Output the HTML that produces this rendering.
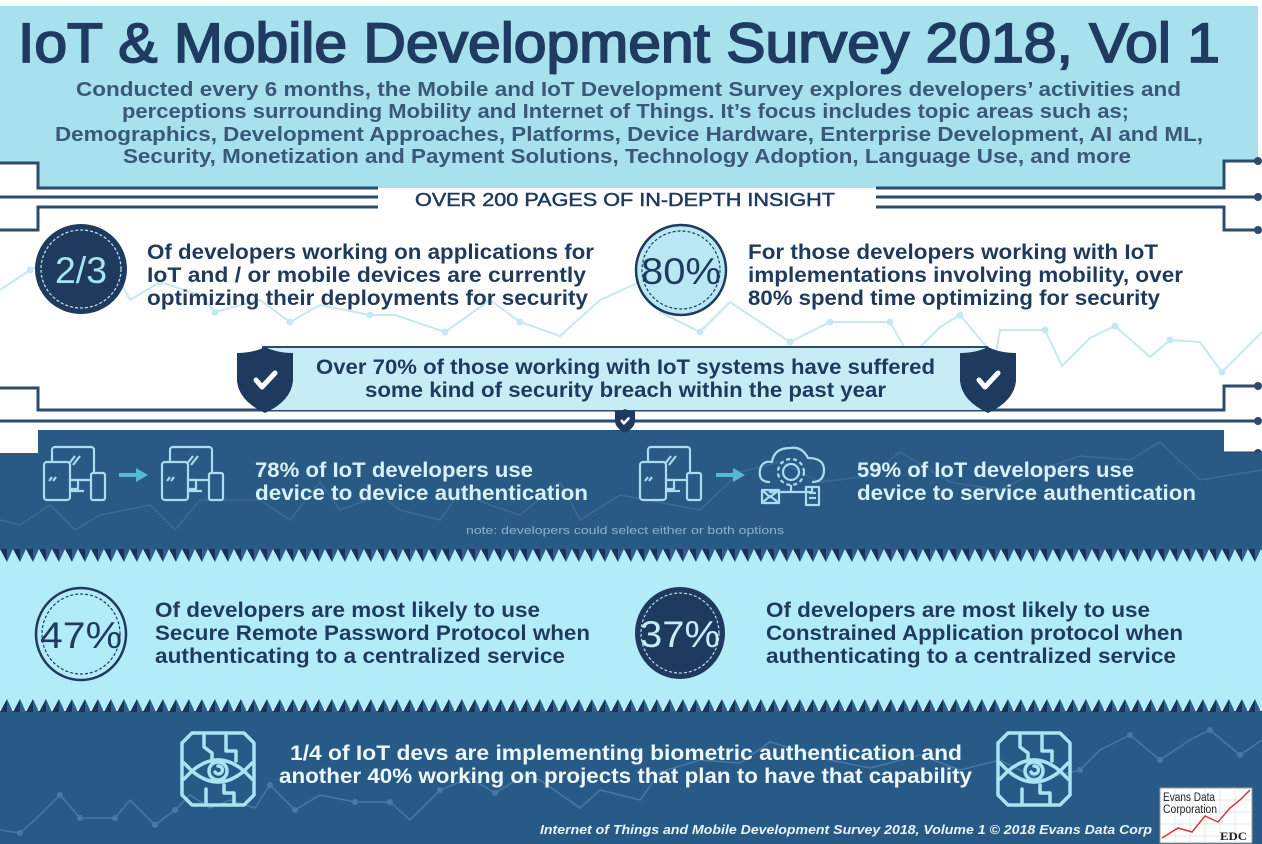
<!DOCTYPE html>
<html><head><meta charset="utf-8"><style>html,body{margin:0;padding:0;background:#fff}svg{display:block}</style></head>
<body>
<svg width="1262" height="844" viewBox="0 0 1262 844" xmlns="http://www.w3.org/2000/svg" font-family="'Liberation Sans', sans-serif">
<defs>
<pattern id="t1" x="0" y="549" width="13" height="13" patternUnits="userSpaceOnUse">
<polygon points="0,0 7,0 7,13" fill="#1c3358"/><polygon points="7,0 13,0 7,13" fill="#2f5f8c"/>
</pattern>
<pattern id="t2" x="0" y="699" width="13" height="13" patternUnits="userSpaceOnUse">
<polygon points="0,13 7,0 7,13" fill="#1c3358"/><polygon points="7,0 13,13 7,13" fill="#2f5f8c"/>
</pattern>
<g id="dev" fill="#295a86" stroke="#a8dcee" stroke-width="2.2" stroke-linejoin="round">
<rect x="8" y="0" width="42" height="33" rx="3"/>
<rect x="24" y="33" width="10" height="9"/>
<line x1="18" y1="44" x2="40" y2="44"/>
<line x1="31" y1="9" x2="24" y2="18"/><line x1="36" y1="9" x2="29" y2="18"/>
<rect x="0" y="15" width="26" height="38" rx="3"/>
<line x1="8" y1="30" x2="5" y2="34"/><line x1="12" y1="30" x2="9" y2="34"/>
<rect x="47" y="26" width="14" height="27" rx="2"/>
</g>
<g id="eye" fill="none" stroke="#a8e4f2" stroke-width="3.5" stroke-linejoin="round" stroke-linecap="round">
<path d="M10,0 H62 L72,10 V62 L62,72 H10 L0,62 V10 Z"/>
<path d="M10,38 Q36,16 62,38 Q36,60 10,38 Z"/>
<circle cx="36" cy="38" r="9"/>
<path d="M36,33 a4,4 0 1 1 -3,6"/>
<path d="M22,2 V14 L30,20 V28"/><path d="M44,2 V18 H54 V28"/>
<path d="M24,56 V70"/><path d="M42,52 V60 H52 V70"/>
<path d="M2,30 L10,38 L2,46"/><path d="M70,30 L62,38 L70,46"/>
</g>
<path id="shield" d="M-28,6 Q-12,6 0,0 Q12,6 28,6 L28,34 Q26,54 0,66 Q-26,54 -28,34 Z"/>
</defs>

<rect width="1262" height="844" fill="#ffffff"/>

<g stroke="#c6e8f0" stroke-width="2" fill="none">
<polyline points="0,290 30,270 72,248 110,262 130,300 160,282 200,295 215,312 260,300 290,322 320,305 370,315 395,315 445,332 490,300 520,322 560,336 600,300 640,282 660,312 700,332 730,302 790,342 830,322 890,322 910,357 940,327 960,315 995,357 1000,330 1045,330 1062,366 1090,338 1115,326 1150,357 1170,340 1200,342 1222,372 1262,332"/>
</g>
<g fill="#c6e8f0">
<circle cx="30" cy="270" r="3.5"/><circle cx="160" cy="282" r="3.5"/><circle cx="215" cy="312" r="3.5"/><circle cx="290" cy="322" r="3.5"/><circle cx="370" cy="315" r="3.5"/><circle cx="445" cy="332" r="3.5"/><circle cx="520" cy="322" r="3.5"/><circle cx="700" cy="332" r="3.5"/><circle cx="790" cy="342" r="3.5"/><circle cx="830" cy="322" r="3.5"/><circle cx="890" cy="322" r="3.5"/><circle cx="960" cy="315" r="3.5"/><circle cx="1045" cy="330" r="3.5"/><circle cx="1115" cy="326" r="3.5"/><circle cx="1170" cy="340" r="3.5"/><circle cx="1222" cy="372" r="3.5"/>
</g>

<path d="M0,6 H1258 V161 H1224 V188 H38 V163 H0 Z" fill="#a7e1ee"/>
<text x="18" y="62" font-size="56" fill="#1f3b60" stroke="#1f3b60" stroke-width="1.8" textLength="1202" lengthAdjust="spacingAndGlyphs">IoT &amp; Mobile Development Survey 2018, Vol 1</text>
<g font-size="20.5" font-weight="bold" fill="#3a5878">
<text x="76" y="96" textLength="1105" lengthAdjust="spacingAndGlyphs">Conducted every 6 months, the Mobile and IoT Development Survey explores developers’ activities and</text>
<text x="122" y="118" textLength="1007" lengthAdjust="spacingAndGlyphs">perceptions surrounding Mobility and Internet of Things. It’s focus includes topic areas such as;</text>
<text x="55" y="141" textLength="1148" lengthAdjust="spacingAndGlyphs">Demographics, Development Approaches, Platforms, Device Hardware, Enterprise Development, AI and ML,</text>
<text x="123" y="163" textLength="1008" lengthAdjust="spacingAndGlyphs">Security, Monetization and Payment Solutions, Technology Adoption, Language Use, and more</text>
</g>

<g stroke="#2d4b6d" stroke-width="3" fill="none">
<path d="M0,163 H38 V188 H378"/>
<path d="M0,197 H378"/>
<path d="M378,207 H38 V230 H0"/>
<path d="M876,188 H1224 V161 H1258"/>
<path d="M876,197 H1258"/>
<path d="M876,207 H1224 V230 H1258"/>
<path d="M0,388 H38 V410 H1224 V386 H1258"/>
<path d="M0,421 H1258"/>
<path d="M1224,453 H1258"/>
</g>
<g fill="#2d4b6d">
<circle cx="1258" cy="161" r="4"/><circle cx="1258" cy="197" r="4"/><circle cx="1258" cy="230" r="4"/>
<circle cx="1258" cy="386" r="4"/><circle cx="1258" cy="421" r="4"/><circle cx="1258" cy="453" r="4"/>
</g>
<text x="415" y="206" font-size="18.5" fill="#1f3b60" stroke="#1f3b60" stroke-width="0.5" textLength="420" lengthAdjust="spacingAndGlyphs">OVER 200 PAGES OF IN-DEPTH INSIGHT</text>

<ellipse cx="81" cy="269" rx="46" ry="45" fill="#1f3a5f"/>
<ellipse cx="81" cy="269" rx="40" ry="39" fill="none" stroke="#b6dbe8" stroke-width="1.3" stroke-dasharray="3,2"/>
<text x="55" y="283" font-size="37" fill="#a8e3f0" textLength="52" lengthAdjust="spacingAndGlyphs">2/3</text>
<g font-size="21" font-weight="bold" fill="#1f3a5c">
<text x="147" y="259" textLength="447" lengthAdjust="spacingAndGlyphs">Of developers working on applications for</text>
<text x="147" y="282" textLength="439" lengthAdjust="spacingAndGlyphs">IoT and / or mobile devices are currently</text>
<text x="147" y="305" textLength="441" lengthAdjust="spacingAndGlyphs">optimizing their deployments for security</text>
</g>
<ellipse cx="681" cy="270" rx="45" ry="45" fill="#b9e8f4" stroke="#1f3a5f" stroke-width="2.5"/>
<ellipse cx="681" cy="270" rx="39" ry="39" fill="none" stroke="#1f3a5f" stroke-width="1.2" stroke-dasharray="3,2"/>
<text x="641" y="284" font-size="37" fill="#1f3a5f" textLength="80" lengthAdjust="spacingAndGlyphs">80%</text>
<g font-size="21" font-weight="bold" fill="#1f3a5c">
<text x="748" y="259" textLength="410" lengthAdjust="spacingAndGlyphs">For those developers working with IoT</text>
<text x="748" y="282" textLength="435" lengthAdjust="spacingAndGlyphs">implementations involving mobility, over</text>
<text x="748" y="305" textLength="412" lengthAdjust="spacingAndGlyphs">80% spend time optimizing for security</text>
</g>

<rect x="262" y="347" width="726" height="63" fill="#c6edf6"/>
<line x1="262" y1="347" x2="988" y2="347" stroke="#2d4b6d" stroke-width="2"/>
<g font-size="21" font-weight="bold" fill="#1f3a5c">
<text x="316" y="374" textLength="619" lengthAdjust="spacingAndGlyphs">Over 70% of those working with IoT systems have suffered</text>
<text x="365" y="397" textLength="521" lengthAdjust="spacingAndGlyphs">some kind of security breach within the past year</text>
</g>
<g transform="translate(265,347)"><use href="#shield" fill="#1f3a5f"/><polyline points="-9,33 -3,40 10,26" fill="none" stroke="#fff" stroke-width="5" stroke-linecap="round" stroke-linejoin="round"/></g>
<g transform="translate(988,347)"><use href="#shield" fill="#1f3a5f"/><polyline points="-9,33 -3,40 10,26" fill="none" stroke="#fff" stroke-width="5" stroke-linecap="round" stroke-linejoin="round"/></g>

<path d="M38,430 H1224 V453 H1262 V551 H0 V453 H38 Z" fill="#295a86"/>
<g transform="translate(625,409) scale(0.36)"><use href="#shield" fill="#1f3a5f"/><polyline points="-9,33 -3,40 10,26" fill="none" stroke="#fff" stroke-width="7" stroke-linecap="round" stroke-linejoin="round"/></g>
<polyline points="0,520 20,525 50,505 75,530 100,515 150,505 175,530 200,500 260,500 290,520 320,482 340,510 380,495 400,510 440,520 460,492 490,505 520,515 560,482 580,520 620,495 700,510 740,472 780,462 820,482 870,476 900,452 950,482 1000,490 1040,470 1080,456 1130,460 1160,442 1200,480 1262,470" fill="none" stroke="#3a6994" stroke-width="1.5"/>
<use href="#dev" x="44" y="447"/>
<use href="#dev" x="162" y="447"/>
<use href="#dev" x="640" y="447"/>
<g fill="#56b8d3" stroke="#56b8d3">
<line x1="119" y1="475" x2="138" y2="475" stroke-width="4"/><polygon points="136,468 148,475 136,482" stroke="none"/>
<line x1="716" y1="475" x2="735" y2="475" stroke-width="4"/><polygon points="733,468 745,475 733,482" stroke="none"/>
</g>
<g fill="none" stroke="#a8dcee" stroke-width="2.2" stroke-linejoin="round">
<path d="M770,482 Q758,482 760,470 Q762,460 772,462 Q774,448 790,448 Q802,446 808,458 Q824,458 824,470 Q824,482 812,482"/>
<circle cx="791" cy="472" r="8"/>
<circle cx="791" cy="472" r="13" stroke-dasharray="4,3"/>
<path d="M791,485 V492 H770 V490 M791,492 H812 V487"/>
<rect x="762" y="490" width="17" height="13"/><path d="M762,490 L770,497 L779,490 M762,503 L770,496 L779,503"/>
<rect x="806" y="487" width="13" height="18"/><line x1="809" y1="493" x2="816" y2="493"/><line x1="809" y1="498" x2="816" y2="498"/>
</g>
<g font-size="21" font-weight="bold" fill="#d8f1f8">
<text x="255" y="477" textLength="278" lengthAdjust="spacingAndGlyphs">78% of IoT developers use</text>
<text x="255" y="500" textLength="333" lengthAdjust="spacingAndGlyphs">device to device authentication</text>
<text x="857" y="477" textLength="277" lengthAdjust="spacingAndGlyphs">59% of IoT developers use</text>
<text x="857" y="500" textLength="339" lengthAdjust="spacingAndGlyphs">device to service authentication</text>
</g>
<text x="466" y="534" font-size="11" fill="#8cb0cf" textLength="318" lengthAdjust="spacingAndGlyphs">note: developers could select either or both options</text>

<rect x="0" y="549" width="1262" height="160" fill="#b3ecf9"/>
<rect x="0" y="549" width="1262" height="13" fill="url(#t1)"/>
<ellipse cx="81" cy="634" rx="45" ry="46" fill="none" stroke="#1f3a5f" stroke-width="2.5"/>
<ellipse cx="81" cy="634" rx="39" ry="40" fill="none" stroke="#1f3a5f" stroke-width="1.2" stroke-dasharray="3,2"/>
<text x="40" y="648" font-size="37" fill="#1f3a5f" textLength="82" lengthAdjust="spacingAndGlyphs">47%</text>
<ellipse cx="680" cy="633" rx="45" ry="46" fill="#1f3a5f"/>
<ellipse cx="680" cy="633" rx="39" ry="40" fill="none" stroke="#b6dbe8" stroke-width="1.2" stroke-dasharray="3,2"/>
<text x="640" y="647" font-size="37" fill="#c4eef8" textLength="80" lengthAdjust="spacingAndGlyphs">37%</text>
<g font-size="21" font-weight="bold" fill="#1f3a5c">
<text x="155" y="617" textLength="385" lengthAdjust="spacingAndGlyphs">Of developers are most likely to use</text>
<text x="155" y="640" textLength="435" lengthAdjust="spacingAndGlyphs">Secure Remote Password Protocol when</text>
<text x="155" y="663" textLength="410" lengthAdjust="spacingAndGlyphs">authenticating to a centralized service</text>
<text x="766" y="617" textLength="384" lengthAdjust="spacingAndGlyphs">Of developers are most likely to use</text>
<text x="766" y="640" textLength="417" lengthAdjust="spacingAndGlyphs">Constrained Application protocol when</text>
<text x="766" y="663" textLength="410" lengthAdjust="spacingAndGlyphs">authenticating to a centralized service</text>
</g>

<rect x="0" y="711" width="1262" height="133" fill="#285a87"/>
<rect x="0" y="699" width="1262" height="13" fill="url(#t2)"/>
<polyline points="0,830 20,833 40,815 60,795 80,818 115,818 130,800 155,825 175,810 190,795 210,808 230,800 255,808 270,785 295,810 320,795 355,802 390,802 410,820 440,790 470,778 495,793 525,775 540,780 580,808 600,790 640,800 660,772 700,760 740,763 770,742 830,760 870,768 920,755 960,770 1000,760 1040,780 1080,770 1100,750 1130,735 1160,760 1190,740 1210,730 1240,755 1262,740" fill="none" stroke="#4878a3" stroke-width="1.5"/>
<g fill="#4878a3">
<circle cx="20" cy="833" r="3"/><circle cx="60" cy="795" r="3"/><circle cx="80" cy="818" r="3"/><circle cx="115" cy="818" r="3"/><circle cx="155" cy="825" r="3"/><circle cx="175" cy="810" r="3"/><circle cx="270" cy="785" r="3"/><circle cx="295" cy="810" r="3"/><circle cx="355" cy="802" r="3"/><circle cx="390" cy="802" r="3"/><circle cx="440" cy="790" r="3"/><circle cx="495" cy="793" r="3"/><circle cx="1040" cy="780" r="3"/><circle cx="1080" cy="770" r="3"/><circle cx="1130" cy="735" r="3"/><circle cx="1160" cy="760" r="3"/><circle cx="1210" cy="730" r="3"/><circle cx="1240" cy="755" r="3"/>
</g>
<use href="#eye" x="182" y="733"/>
<use href="#eye" x="998" y="733"/>
<g font-size="21" font-weight="bold" fill="#eef8fb">
<text x="290" y="760" textLength="672" lengthAdjust="spacingAndGlyphs">1/4 of IoT devs are implementing biometric authentication and</text>
<text x="279" y="783" textLength="693" lengthAdjust="spacingAndGlyphs">another 40% working on projects that plan to have that capability</text>
</g>
<text x="540" y="834" font-size="13" font-style="italic" font-weight="bold" fill="#e6f3f8" textLength="612" lengthAdjust="spacingAndGlyphs">Internet of Things and Mobile Development Survey 2018, Volume 1 © 2018 Evans Data Corp</text>

<rect x="1160" y="788" width="92" height="55" fill="#ffffff" stroke="#9a9a9a" stroke-width="1"/>
<g stroke="#dddddd" stroke-width="0.7">
<line x1="1160" y1="800" x2="1252" y2="800"/><line x1="1160" y1="812" x2="1252" y2="812"/><line x1="1160" y1="824" x2="1252" y2="824"/><line x1="1160" y1="836" x2="1252" y2="836"/>
<line x1="1175" y1="788" x2="1175" y2="843"/><line x1="1190" y1="788" x2="1190" y2="843"/><line x1="1205" y1="788" x2="1205" y2="843"/><line x1="1220" y1="788" x2="1220" y2="843"/><line x1="1235" y1="788" x2="1235" y2="843"/>
</g>
<text x="1163" y="801" font-size="11.5" fill="#222" textLength="52" lengthAdjust="spacingAndGlyphs">Evans Data</text>
<text x="1163" y="813" font-size="11.5" fill="#222" textLength="54" lengthAdjust="spacingAndGlyphs">Corporation</text>
<text x="1220" y="840" font-size="12" font-weight="bold" fill="#222" font-family="'Liberation Serif', serif" textLength="27" lengthAdjust="spacingAndGlyphs">EDC</text>
<polyline points="1162,838 1178,828 1192,832 1205,816 1218,822 1230,808 1240,800 1250,790" fill="none" stroke="#d33" stroke-width="1.5"/>
</svg>
</body></html>
